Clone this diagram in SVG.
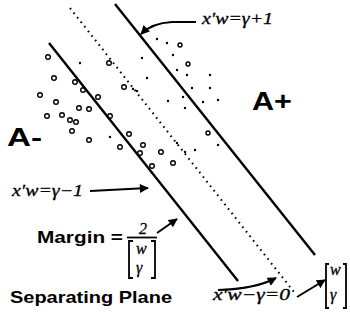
<svg xmlns="http://www.w3.org/2000/svg" width="350" height="320" viewBox="0 0 350 320">
<defs>
<marker id="ah" viewBox="0 0 10 10" refX="9" refY="5" markerWidth="5" markerHeight="4.5" orient="auto" markerUnits="strokeWidth"><path d="M0,0 L10,5 L0,10 z" fill="#000"/></marker>
<style>
.ln{stroke:#000;stroke-width:2.4;fill:none}
.dt{stroke:#000;stroke-width:2;fill:none;stroke-dasharray:1.6 4.2}
.ar{stroke:#000;stroke-width:2;fill:none;marker-end:url(#ah)}
.eq{font-family:"Liberation Serif",serif;font-style:italic;font-size:16px;fill:#000;stroke:#000;stroke-width:0.3}
.bd{font-family:"Liberation Sans",Arial,sans-serif;font-weight:bold;fill:#000}
.o{fill:none;stroke:#000;stroke-width:1.4}
.d{fill:#000}
.br{stroke:#000;stroke-width:1.8;fill:none}
</style>
</defs>
<rect width="350" height="320" fill="#fff"/>
<g id="connectors">
<path id="plane-plus" class="ln" d="M115,4 L315,255"/>
<path id="plane-minus" class="ln" d="M49,43 L238,281"/>
<path id="plane-sep" class="dt" d="M70,8 L294,292"/>
<path class="ar" d="M196,22 L172,22 Q152,23 141,34"/>
<path class="ar" d="M90,191 L148,188"/>
<path class="ar" d="M157,233 L177,219"/>
<path class="ar" d="M218,290 Q255,289 276,278"/>
<path class="ar" d="M297,297 L325,280"/>
</g>
<g id="points-minus">
<circle class="o" cx="48" cy="57" r="2.3"/>
<circle class="o" cx="54" cy="78" r="2.3"/>
<circle class="o" cx="40" cy="95" r="2.3"/>
<circle class="o" cx="56" cy="102" r="2.3"/>
<circle class="o" cx="47" cy="116" r="2.3"/>
<circle class="o" cx="62" cy="115" r="2.3"/>
<circle class="o" cx="70" cy="120" r="2.3"/>
<circle class="o" cx="76" cy="122" r="2.3"/>
<circle class="o" cx="72" cy="131" r="2.3"/>
<circle class="o" cx="79" cy="108" r="2.3"/>
<circle class="o" cx="89" cy="109" r="2.3"/>
<circle class="o" cx="75" cy="82" r="2.3"/>
<circle class="o" cx="83" cy="90" r="2.3"/>
<circle class="o" cx="98" cy="97" r="2.3"/>
<circle class="o" cx="110" cy="116" r="2.3"/>
<circle class="o" cx="129" cy="134" r="2.3"/>
<circle class="o" cx="120" cy="147" r="2.3"/>
<circle class="o" cx="89" cy="140" r="2.3"/>
<circle class="o" cx="109" cy="63" r="2.3"/>
<circle class="o" cx="124" cy="87" r="2.3"/>
<circle class="o" cx="143" cy="145" r="2.3"/>
<circle class="o" cx="140" cy="153" r="2.3"/>
<circle class="o" cx="161" cy="152" r="2.3"/>
<circle class="o" cx="152" cy="166" r="2.3"/>
<circle class="o" cx="173" cy="163" r="2.3"/>
<circle class="d" cx="110" cy="137" r="1.2"/>
<circle class="d" cx="80" cy="63" r="1.2"/>
</g>
<g id="points-plus">
<circle class="d" cx="157" cy="39" r="1.2"/>
<circle class="d" cx="167" cy="43" r="1.2"/>
<circle class="o" cx="180" cy="45" r="2"/>
<circle class="d" cx="142" cy="58" r="1.2"/>
<circle class="d" cx="173" cy="55" r="1.2"/>
<circle class="o" cx="188" cy="64" r="2"/>
<circle class="d" cx="177" cy="70" r="1.2"/>
<circle class="d" cx="187" cy="75" r="1.2"/>
<circle class="d" cx="147" cy="78" r="1.2"/>
<circle class="d" cx="210" cy="75" r="1.2"/>
<circle class="d" cx="192" cy="88" r="1.2"/>
<circle class="d" cx="183" cy="97" r="1.2"/>
<circle class="d" cx="210" cy="88" r="1.2"/>
<circle class="d" cx="168" cy="101" r="1.2"/>
<circle class="d" cx="185" cy="108" r="1.2"/>
<circle class="d" cx="203" cy="102" r="1.2"/>
<circle class="d" cx="218" cy="100" r="1.2"/>
<circle class="o" cx="208" cy="133" r="2"/>
<circle class="d" cx="218" cy="145" r="1.2"/>
<circle class="d" cx="177" cy="143" r="1.2"/>
<circle class="d" cx="185" cy="152" r="1.2"/>
<circle class="d" cx="195" cy="150" r="1.2"/>
<circle class="d" cx="133" cy="89" r="1.2"/>
<circle class="d" cx="137" cy="91" r="1.2"/>
</g>
<g id="label-aplus"><text class="bd" x="252" y="110" font-size="25" textLength="40" lengthAdjust="spacingAndGlyphs">A+</text></g>
<g id="label-aminus"><text class="bd" x="7" y="146" font-size="26" textLength="35" lengthAdjust="spacingAndGlyphs">A-</text></g>
<g id="eq-plus"><text class="eq" x="202" y="24" textLength="71" lengthAdjust="spacingAndGlyphs">x′w=γ+1</text></g>
<g id="eq-minus"><text class="eq" x="12" y="196" textLength="71" lengthAdjust="spacingAndGlyphs">x′w=γ−1</text></g>
<g id="eq-zero"><text class="eq" x="213" y="300" font-size="17" textLength="77" lengthAdjust="spacingAndGlyphs">x′w−γ=0</text></g>
<g id="margin">
<text class="bd" x="37" y="243" font-size="17" textLength="86" lengthAdjust="spacingAndGlyphs">Margin =</text>
<text class="eq" x="139" y="234" font-style="normal" font-size="12">2</text>
<path class="br" d="M127,237.5 H157"/>
<path class="br" d="M133,241 H129 V278 H133 M151,241 H155 V278 H151"/>
<text class="eq" x="136" y="254" font-size="12">w</text>
<text class="eq" x="136" y="273" font-size="15">γ</text>
</g>
<g id="normal-vector">
<path class="br" d="M329,264 H326 V308 H329 M343,264 H346 V308 H343"/>
<text class="eq" x="330" y="275" font-size="12">w</text>
<text class="eq" x="330" y="300" font-size="15">γ</text>
</g>
<g id="label-sep"><text class="bd" x="10" y="303" font-size="17" textLength="162" lengthAdjust="spacingAndGlyphs">Separating Plane</text></g>
</svg>
